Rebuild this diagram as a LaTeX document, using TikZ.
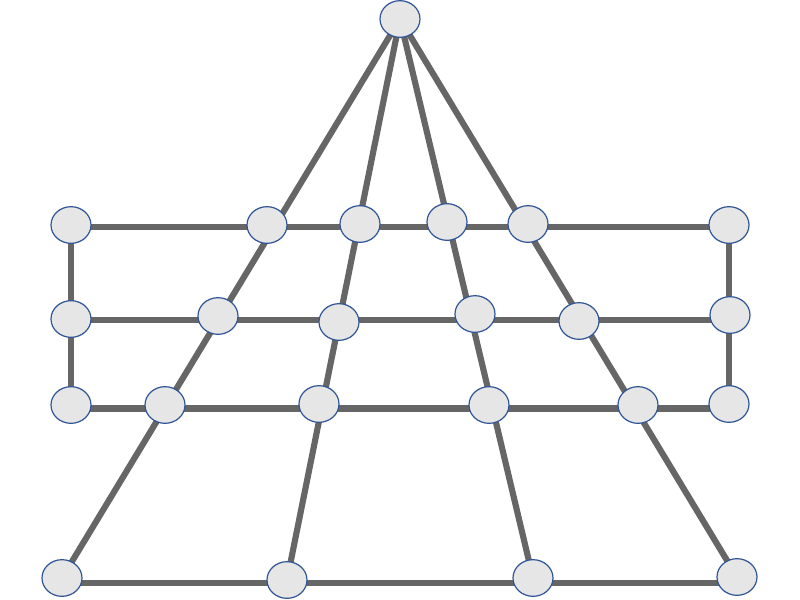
\documentclass[tikz,border=0pt]{standalone}
\usetikzlibrary{shapes.geometric,backgrounds}
\definecolor{edgegray}{HTML}{666666}
\definecolor{nodefill}{HTML}{E6E6E6}
\definecolor{nodeborder}{HTML}{2F5597}
\begin{document}
\begin{tikzpicture}[x=0.75pt,y=-0.75pt,
  vert/.style={ellipse,draw=nodeborder,fill=nodefill,line width=0.9pt,minimum width=30pt,minimum height=27.5pt,inner sep=0pt},
  link/.style={draw=edgegray,line width=4.6pt}]
\useasboundingbox (0,0) rectangle (800,600);
% nodes
\node[vert] (top) at (400,19) {};
\node[vert] (a1) at (71,225) {};
\node[vert] (a2) at (267,225) {};
\node[vert] (a3) at (360,224) {};
\node[vert] (a4) at (447,222) {};
\node[vert] (a5) at (528,224) {};
\node[vert] (a6) at (729,225) {};
\node[vert] (b1) at (71,319) {};
\node[vert] (b2) at (218,316) {};
\node[vert] (b3) at (339,322) {};
\node[vert] (b4) at (475,314) {};
\node[vert] (b5) at (579,321) {};
\node[vert] (b6) at (730,315) {};
\node[vert] (c1) at (71,405) {};
\node[vert] (c2) at (165,405) {};
\node[vert] (c3) at (319,404) {};
\node[vert] (c4) at (489,405) {};
\node[vert] (c5) at (638,405) {};
\node[vert] (c6) at (729,404) {};
\node[vert] (d1) at (62,578) {};
\node[vert] (d2) at (287,580) {};
\node[vert] (d3) at (533,578) {};
\node[vert] (d4) at (737,577) {};
\begin{pgfonlayer}{background}
  \coordinate (ra) at ([yshift=-1.5pt]a1.center);
  \coordinate (rb) at ([yshift=-0.75pt]b1.center);
  \coordinate (rc) at ([yshift=-2.6pt]c1.center);
  \coordinate (rd) at ([yshift=-3.75pt]d1.center);
  \draw[link] (ra) -- (ra -| a6.center);
  \draw[link] (rb) -- (rb -| b6.center);
  \draw[link] (rc) -- (rc -| c6.center);
  \draw[link] (rd) -- (rd -| d4.center);
  \draw[link] (a1.center) -- (c1.center);
  \draw[link] (a6.center) -- (c6.center);
  \draw[link] (top.center) -- (d1.center);
  \draw[link] (top.center) -- (d2.center);
  \draw[link] (top.center) -- (d3.center);
  \draw[link] (top.center) -- (d4.center);
\end{pgfonlayer}
\end{tikzpicture}
\end{document}
